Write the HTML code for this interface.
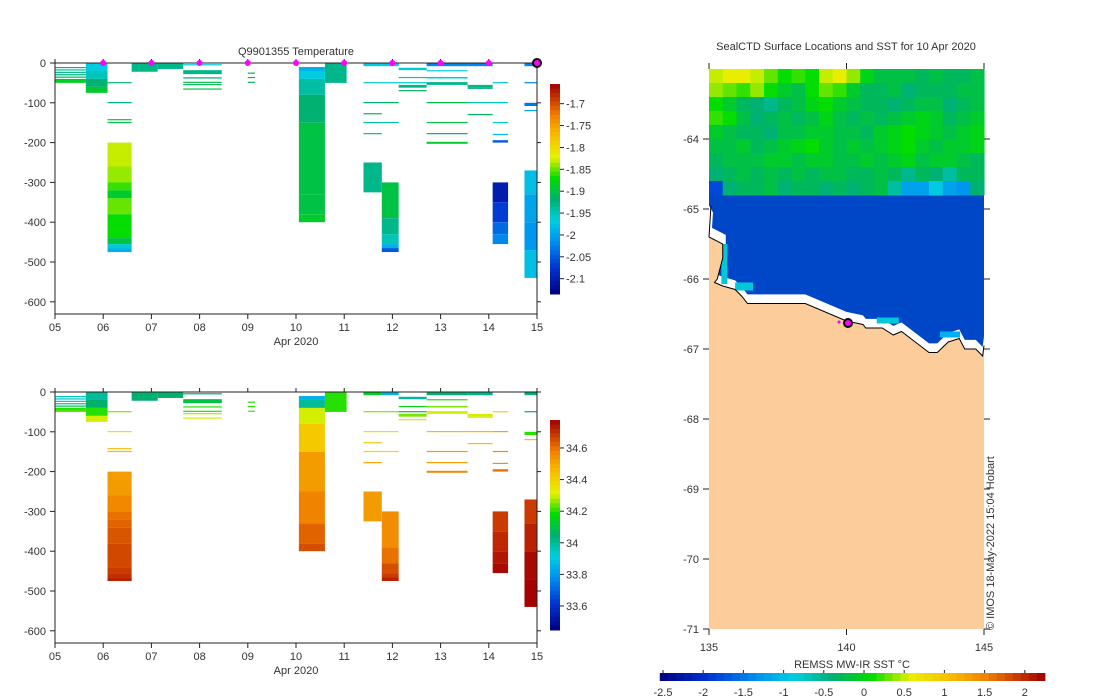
<!DOCTYPE html>
<html><head><meta charset="utf-8"><style>
html,body{margin:0;padding:0;background:#fff;}
svg{display:block;font-family:"Liberation Sans","DejaVu Sans",sans-serif;}
text{fill:#333;font-size:11px;}
</style></head><body>
<svg id="fig" width="1100" height="700" viewBox="0 0 1100 700" xmlns="http://www.w3.org/2000/svg"></svg>
<script>
// ---- profile data (days since 05 Apr) ----
const profStart=[0,0.64,1.09,1.59,2.13,2.66,4.0,5.06,5.6,6.4,6.78,7.13,7.71,8.56,9.08,9.74];
const profEnd  =[0.64,1.09,1.59,2.13,2.66,3.46,4.15,5.6,6.05,6.78,7.13,7.71,8.56,9.08,9.4,10.0];
// layers: profile index, top depth, bottom depth, temperature, salinity
const layerProf=[0,0,0,0,0,0,0, 1,1,1,1, 2,2,2,2,2,2,2,2,2,2,2,2,2, 3,4, 5,5,5,5,5,5, 6,6,6,
 7,7,7,7,7,7,7,7, 8, 9,9,9,9,9,9,9, 10,10,10,10,10,10,10,10,10,
 11,11,11,11,11, 12,12,12,12,12,12,12,12, 13,13,13,13,13, 14,14,14,14,14,14,14,14,14, 15,15,15,15,15,15,15,15];
const layerTop=[10,16,22,28,34,40,44, 0,20,40,60, 48,98,141,148,200,260,300,320,340,380,440,455,465, 0,0, 3,18,36,47,53,64, 24,35,47,
 10,20,40,80,150,250,330,380, 0, 0,48,98,126,148,176,250, 0,48,98,148,300,390,430,455,465,
 12,35,48,55,68, 0,18,35,48,98,148,176,198, 0,55,62,98,128, 48,98,148,178,194,300,350,400,430, 0,48,100,118,270,330,400,470];
const layerBot=[13,19,25,31,37,44,50, 20,40,60,75, 51,101,144,151,260,300,320,340,380,440,455,465,475, 22,15, 6,28,39,50,56,67, 27,38,50,
 20,40,80,150,250,330,380,400, 50, 8,51,101,129,151,179,325, 8,51,101,151,390,430,455,465,475,
 18,38,51,62,71, 8,21,39,55,101,151,179,203, 8,62,65,101,131, 51,101,151,181,200,350,400,430,455, 8,51,108,121,330,400,470,540];
const layerTemp=[-1.93,-1.94,-1.93,-1.92,-1.92,-1.9,-1.88, -1.97,-1.95,-1.92,-1.89, -1.92,-1.93,-1.9,-1.9,-1.83,-1.84,-1.86,-1.89,-1.85,-1.87,-1.9,-1.96,-1.99, -1.93,-1.93, -1.97,-1.93,-1.92,-1.9,-1.91,-1.9, -1.92,-1.92,-1.91,
 -1.99,-1.97,-1.94,-1.92,-1.9,-1.9,-1.9,-1.89, -1.93, -1.97,-1.96,-1.92,-1.92,-1.94,-1.94,-1.93, -1.97,-1.97,-1.91,-1.95,-1.9,-1.93,-1.95,-1.99,-2.05,
 -1.96,-1.95,-1.96,-1.93,-1.92, -2.02,-1.97,-1.96,-1.93,-1.9,-1.9,-1.92,-1.89, -2.02,-1.93,-1.92,-1.95,-1.91, -1.98,-1.97,-1.97,-1.98,-2.05,-2.1,-2.07,-2.04,-2.02, -2.02,-2.02,-2.03,-2.0,-1.98,-2.0,-2.01,-1.98];
const layerSal=[33.95,33.95,33.95,33.97,34.1,34.2,34.22, 34.0,34.05,34.2,34.3, 34.25,34.35,34.45,34.45,34.52,34.56,34.6,34.62,34.64,34.66,34.68,34.7,34.72, 34.05,34.05, 34.05,34.1,34.2,34.2,34.28,34.3, 34.2,34.2,34.22,
 33.85,34.0,34.3,34.42,34.52,34.57,34.62,34.65, 34.2, 34.15,34.25,34.3,34.42,34.38,34.5,34.52, 33.85,34.25,34.3,34.38,34.55,34.6,34.65,34.68,34.72,
 34.0,34.15,34.1,34.25,34.38, 34.05,34.2,34.25,34.3,34.45,34.52,34.52,34.56, 34.02,34.3,34.35,34.45,34.45, 34.38,34.5,34.55,34.55,34.6,34.68,34.71,34.74,34.76, 34.05,34.05,34.2,34.45,34.68,34.72,34.76,34.77];
const markerDays=[1,2,3,4,5,6,7,8,9];
const dayLabels=["05","06","07","08","09","10","11","12","13","14","15"];
const depthTicks=[0,-100,-200,-300,-400,-500,-600];
const tempTicks=[-1.7,-1.75,-1.8,-1.85,-1.9,-1.95,-2,-2.05,-2.1];
const salTicks=[34.6,34.4,34.2,34,33.8,33.6];
// ---- map data ----
const sstRows=[ // lat -63.0 .. -64.8 in 0.2 steps, lon 135..145 in 0.5 steps
[0.5,0.6,0.6,0.5,0.3,0.1,0.2,0.1,0.5,0.6,0.4,0.0,-0.2,-0.2,-0.2,-0.3,-0.2,-0.3,-0.3,-0.2],
[0.4,0.3,0.2,0.4,0.1,-0.1,-0.2,0.1,0.3,0.2,-0.1,-0.3,-0.3,-0.2,-0.4,-0.3,-0.3,-0.3,-0.2,-0.2],
[0.1,-0.1,-0.3,-0.4,-0.5,-0.3,-0.2,0.0,0.1,-0.1,-0.2,-0.3,-0.3,-0.4,-0.3,-0.2,-0.2,-0.4,-0.3,-0.2],
[0.2,0.1,-0.2,-0.4,-0.3,-0.2,-0.3,-0.2,0.0,-0.2,-0.3,-0.2,-0.3,-0.2,-0.1,0.0,-0.1,-0.3,-0.2,-0.1],
[-0.1,-0.2,-0.3,-0.3,-0.4,-0.2,-0.2,-0.1,-0.1,-0.2,-0.2,-0.3,-0.1,0.0,0.1,0.0,-0.1,-0.2,-0.1,0.0],
[-0.2,-0.2,-0.1,-0.3,-0.2,-0.1,0.0,0.1,-0.1,-0.2,-0.1,-0.2,-0.1,0.0,0.1,-0.1,-0.2,-0.1,-0.1,0.0],
[-0.3,-0.2,-0.2,-0.2,-0.1,-0.1,-0.2,-0.1,-0.1,-0.2,-0.2,-0.1,-0.2,-0.1,0.0,-0.2,-0.1,-0.1,-0.2,-0.3],
[-0.4,-0.3,-0.2,-0.3,-0.2,-0.3,-0.2,-0.3,-0.2,-0.2,-0.3,-0.3,-0.2,-0.3,-0.5,-0.3,-0.4,-0.6,-0.3,-0.3],
[-1.8,-0.4,-0.3,-0.3,-0.2,-0.4,-0.3,-0.3,-0.4,-0.3,-0.4,-0.3,-0.2,-0.6,-1.2,-1.2,-0.9,-1.2,-1.3,-0.4]];
const coastLon=[135,135.5,135.5,135.3,135.2,135.5,135.95,136.2,136.4,138.5,140.0,140.6,140.7,141.3,141.7,142.0,142.5,143.0,143.3,143.7,144.1,144.3,144.7,144.95,145.0];
const coastLat=[-65.4,-65.5,-65.7,-66.0,-66.05,-66.1,-66.15,-66.25,-66.35,-66.35,-66.6,-66.65,-66.7,-66.7,-66.8,-66.75,-66.9,-67.05,-67.05,-66.9,-66.85,-67.0,-67.0,-67.1,-66.95];
const lonTicks=[135,140,145];
const latTicks=[-64,-65,-66,-67,-68,-69,-70,-71];
const sstTicks=[-2.5,-2,-1.5,-1,-0.5,0,0.5,1,1.5,2];

const NS="http://www.w3.org/2000/svg";
const svg=document.getElementById('fig');
function el(t,a,p){const e=document.createElementNS(NS,t);for(const k in a)e.setAttribute(k,a[k]);(p||svg).appendChild(e);return e;}
function txt(x,y,s,anchor,p){const e=el('text',{x:x,y:y,'text-anchor':anchor||'middle'},p);e.textContent=s;return e;}
const stops=[[0,[0,0,127]],[0.12,[0,48,208]],[0.25,[0,144,240]],[0.35,[0,208,224]],[0.45,[0,176,112]],[0.55,[0,221,0]],[0.65,[232,240,0]],[0.75,[248,192,0]],[0.85,[240,128,0]],[0.93,[200,56,0]],[1,[160,0,0]]];
function cmap(t){t=Math.max(0,Math.min(1,t));for(let i=1;i<stops.length;i++){if(t<=stops[i][0]){const a=stops[i-1],b=stops[i];const f=(t-a[0])/(b[0]-a[0]);const c=a[1].map((v,j)=>Math.round(v+(b[1][j]-v)*f));return `rgb(${c})`;}}return 'rgb(160,0,0)';}

function section(y0,values,vmin,vmax,ticks,cbTop,cbBot,title,pname){
  const g=el('g',{});  
  const X=d=>55+d*48.2, Y=dep=>y0+dep*0.398;
  const xb=y0+251;
  for(let i=0;i<layerProf.length;i++){
    const p=layerProf[i];
    const r=el('rect',{x:X(profStart[p]),y:Y(layerTop[i]),width:X(profEnd[p])-X(profStart[p]),height:Math.max(1.2,Y(layerBot[i])-Y(layerTop[i])),fill:cmap((values[i]-vmin)/(vmax-vmin))},g);
    
    
  }
  el('rect',{x:55,y:y0,width:482,height:251,fill:'none',stroke:'#222','stroke-width':1},g);
  dayLabels.forEach((s,i)=>{const x=X(i);el('line',{x1:x,x2:x,y1:xb,y2:xb+5,stroke:'#222'},g);el('line',{x1:x,x2:x,y1:y0,y2:y0-4,stroke:'#222'},g);txt(x,xb+17,s,'middle',g);});
  depthTicks.forEach(v=>{const y=Y(-v);el('line',{x1:50,x2:55,y1:y,y2:y,stroke:'#222'},g);el('line',{x1:537,x2:541,y1:y,y2:y,stroke:'#222'},g);txt(46,y+4,String(v),'end',g);});
  txt(296,xb+31,'Apr 2020','middle',g);
  if(title){const t=txt(296,y0-8,title,'middle',g);}
  const cb=el('g',{},g);  
  const n=48;for(let k=0;k<n;k++){const y=cbTop+(cbBot-cbTop)*k/n;el('rect',{x:550,y:y,width:10,height:(cbBot-cbTop)/n+0.5,fill:cmap(1-(k+0.5)/n)},cb);}
  ticks.forEach(v=>{const y=cbTop+(vmax-v)/(vmax-vmin)*(cbBot-cbTop);el('line',{x1:560,x2:564,y1:y,y2:y,stroke:'#222'},cb);txt(566,y+4,String(v),'start',cb);});
}
section(63,layerTemp,-2.135,-1.655,tempTicks,84,294,'Q9901355  Temperature','temperature-section');
section(392,layerSal,33.448,34.777,salTicks,420,630,null,'salinity-section');
markerDays.forEach(d=>{const c=el('circle',{cx:55+d*48.2,cy:63,r:3,fill:'#ff00ff'});});
el('circle',{cx:537,cy:63,r:4,fill:'#ff00ff',stroke:'#000','stroke-width':2});

// ---- map ----
const mg=el('g',{});  
const LX=l=>709+(l-135)*27.5, LY=la=>69+(-63-la)*70;
const smin=-2.54,smax=2.25;
el('rect',{x:709,y:69,width:275,height:560,fill:'#0047c8'},mg);
sstRows.forEach((row,r)=>row.forEach((v,c)=>{el('rect',{x:LX(135+c*0.5),y:LY(-63-r*0.2),width:14.3,height:14.5,fill:cmap((v-smin)/(smax-smin))},mg);}));
const pts=coastLon.map((l,i)=>`${LX(l)},${LY(coastLat[i])}`);
const offPts=coastLon.map((l,i)=>`${LX(l)+(i<3?3:0)},${LY(coastLat[i]+0.13)}`);
// white ice-free strip
el('polygon',{points:`709,${LY(-64.95)} 713,${LY(-65.05)} `+offPts.join(' ')+` 984,${LY(-66.95)} 984,629 709,629`,fill:'#fff'},mg);
// cyan patches near coast
el('rect',{x:LX(135.45),y:LY(-65.5),width:6,height:40,fill:'#00c8d8'},mg);
el('rect',{x:LX(135.95),y:LY(-66.05),width:18,height:8,fill:'#00c8d8'},mg);
el('rect',{x:LX(141.1),y:LY(-66.55),width:22,height:6,fill:'#00c8d8'},mg);
el('rect',{x:LX(143.4),y:LY(-66.75),width:20,height:6,fill:'#00b0f0'},mg);
// land
el('polygon',{points:pts.join(' ')+` 984,629 709,629`,fill:'#fccc9a'},mg);
el('polyline',{points:`711,${LY(-64.95)} `+pts.join(' '),fill:'none',stroke:'#000','stroke-width':1},mg);
el('circle',{cx:848,cy:323,r:4,fill:'#ff00ff',stroke:'#000','stroke-width':2},mg);
el('circle',{cx:839,cy:322,r:1.5,fill:'#ff00ff'},mg);
lonTicks.forEach(l=>{const x=LX(l);el('line',{x1:x,x2:x,y1:63,y2:69,stroke:'#222'},mg);el('line',{x1:x,x2:x,y1:629,y2:635,stroke:'#222'},mg);txt(x,651,String(l),'middle',mg);});
latTicks.forEach(la=>{const y=LY(la);el('line',{x1:703,x2:709,y1:y,y2:y,stroke:'#222'},mg);el('line',{x1:984,x2:990,y1:y,y2:y,stroke:'#222'},mg);txt(699,y+4,String(la),'end',mg);});
const mt=txt(846,50,'SealCTD Surface Locations and SST for 10 Apr 2020','middle');
const cr=el('text',{x:0,y:0,transform:'translate(994,630) rotate(-90)','font-size':'9'});cr.textContent='© IMOS 18-May-2022 15:04 Hobart';
const sc=el('g',{});  
const SX=v=>663+(v+2.5)*80.4;
const nb=48;for(let k=0;k<nb;k++){const v0=smin+(smax-smin)*k/nb;el('rect',{x:SX(v0),y:673,width:(smax-smin)*80.4/nb+0.5,height:8,fill:cmap((k+0.5)/nb)},sc);}
sstTicks.forEach(v=>{const x=SX(v);el('line',{x1:x,x2:x,y1:670,y2:673,stroke:'#222'},sc);txt(x,696,String(v),'middle',sc);});
txt(852,668,'REMSS MW-IR SST °C','middle',sc);
</script>
</body></html>
